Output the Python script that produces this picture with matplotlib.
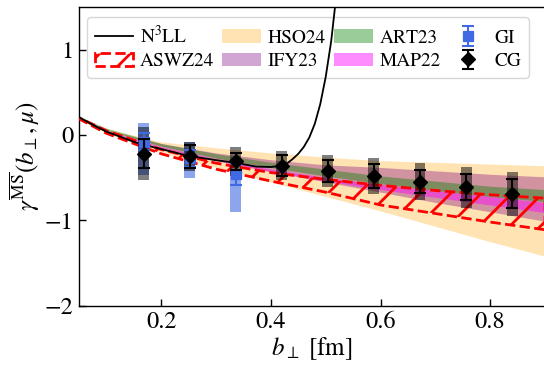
import numpy as np
import matplotlib
matplotlib.use("Agg")
import matplotlib.pyplot as plt
from matplotlib.patches import Patch, Rectangle
from matplotlib.lines import Line2D

DPI = 92
P = 100 / DPI  # scale so that sizes look as at 100 dpi

plt.rcParams['font.family'] = ['STIXGeneral', 'DejaVu Serif']
plt.rcParams['mathtext.fontset'] = 'stix'
plt.rcParams['hatch.linewidth'] = 2.0 * P

# ---- data ----
b_grid = [0.05, 0.1, 0.2, 0.3, 0.4, 0.5, 0.6, 0.7, 0.8, 0.9]
hso_hi = [0.21, 0.07, -0.08, -0.15, -0.21, -0.26, -0.30, -0.32, -0.34, -0.36]
hso_lo = [0.20, 0.02, -0.20, -0.38, -0.55, -0.72, -0.89, -1.07, -1.25, -1.42]
ify_hi = [0.21, 0.06, -0.10, -0.21, -0.29, -0.35, -0.38, -0.42, -0.46, -0.49]
ify_lo = [0.20, 0.04, -0.15, -0.30, -0.43, -0.55, -0.67, -0.79, -0.90, -1.01]
art_hi = [0.22, 0.08, -0.10, -0.22, -0.32, -0.40, -0.48, -0.54, -0.60, -0.64]
art_lo = [0.20, 0.06, -0.13, -0.27, -0.38, -0.48, -0.57, -0.65, -0.72, -0.78]
map_hi = [0.20, 0.05, -0.14, -0.28, -0.40, -0.50, -0.58, -0.65, -0.72, -0.79]
map_lo = [0.19, 0.04, -0.16, -0.30, -0.43, -0.54, -0.64, -0.73, -0.82, -0.91]
aswz_hi = [0.20, 0.05, -0.17, -0.33, -0.44, -0.52, -0.59, -0.65, -0.70, -0.74]
aswz_lo = [0.19, 0.02, -0.22, -0.40, -0.54, -0.67, -0.82, -0.92, -1.02, -1.11]

n3ll_b = [0.05, 0.075, 0.1, 0.125, 0.15, 0.168, 0.2, 0.25, 0.3, 0.336, 0.373,
          0.40, 0.418, 0.43, 0.44, 0.45, 0.46, 0.47, 0.48, 0.49, 0.50,
          0.51, 0.517, 0.525]
n3ll_y = [0.21, 0.12, 0.04, -0.02, -0.08, -0.115, -0.165, -0.245, -0.295,
          -0.325, -0.37, -0.375, -0.36, -0.33, -0.28, -0.22, -0.14, -0.03,
          0.13, 0.36, 0.68, 1.10, 1.50, 2.00]

cg_b = [0.168, 0.252, 0.336, 0.420, 0.504, 0.588, 0.672, 0.756, 0.840]
cg_y = [-0.22, -0.25, -0.31, -0.36, -0.42, -0.48, -0.545, -0.61, -0.69]
cg_err = [0.17, 0.135, 0.10, 0.12, 0.126, 0.136, 0.14, 0.15, 0.17]
cg_sys = [0.31, 0.17, 0.17, 0.17, 0.19, 0.21, 0.22, 0.24, 0.26]

gi_b = [0.168, 0.252, 0.336]
gi_y = [-0.08, -0.27, -0.46]
gi_err = [0.10, 0.10, 0.12]
gi_box_hi = [0.137, -0.078, -0.41]
gi_box_lo = [-0.467, -0.506, -0.90]

xticks = [0.2, 0.4, 0.6, 0.8]
yticks = [-2, -1, 0, 1]

# ---- figure ----
W, H = 544, 367
fig = plt.figure(figsize=(W / DPI, H / DPI), dpi=DPI)
ax = fig.add_axes([79 / W, (H - 305.7) / H, 466 / W, 298.7 / H])

ax.fill_between(b_grid, hso_lo, hso_hi, color='orange', alpha=0.3, lw=0, zorder=1)
ax.fill_between(b_grid, ify_lo, ify_hi, color='purple', alpha=0.35, lw=0, zorder=2)
ax.fill_between(b_grid, art_lo, art_hi, color='green', alpha=0.4, lw=0, zorder=3)
ax.fill_between(b_grid, map_lo, map_hi, color='magenta', alpha=0.45, lw=0, zorder=4)
ax.fill_between(b_grid, aswz_lo, aswz_hi, facecolor='none', edgecolor='red',
                hatch='/', linestyle='--', lw=2 * P, zorder=5)

ax.plot(n3ll_b, n3ll_y, color='black', lw=1.3 * P, zorder=6)

bw = 0.01
for x, lo, hi in zip(gi_b, gi_box_lo, gi_box_hi):
    ax.add_patch(Rectangle((x - bw, lo), 2 * bw, hi - lo, facecolor='royalblue',
                           alpha=0.6, lw=0, zorder=7))
for x, y, s in zip(cg_b, cg_y, cg_sys):
    ax.add_patch(Rectangle((x - bw, y - s), 2 * bw, 2 * s, facecolor='black',
                           alpha=0.5, lw=0, zorder=8))

ax.errorbar(gi_b, gi_y, yerr=gi_err, fmt='s', color='royalblue', ms=7 * P,
            capsize=4 * P, elinewidth=1.5 * P, capthick=1.5 * P, zorder=9, label='GI')
ax.errorbar(cg_b, cg_y, yerr=cg_err, fmt='D', color='black', ms=7 * P,
            capsize=4 * P, elinewidth=1.5 * P, capthick=1.5 * P, zorder=10, label='CG')

ax.set_xlim(0.05, 0.9)
ax.set_ylim(-2, 1.5)
ax.set_xticks(xticks)
ax.set_yticks(yticks)
ax.tick_params(direction='in', labelsize=17.5 * P, length=5 * P, width=1.0 * P,
               pad=4 * P)
for sp in ax.spines.values():
    sp.set_linewidth(1.0 * P)
ax.set_xlabel(r'$b_\perp$ [fm]', fontsize=18 * P, labelpad=2 * P)
ax.set_ylabel(r'$\gamma^{\overline{\rm MS}}(b_\perp, \mu)$', fontsize=18 * P,
              labelpad=2 * P)

h_n3ll = Line2D([], [], color='black', lw=1.3 * P)
h_aswz = Patch(facecolor='none', edgecolor='red', hatch='/', linestyle='--', lw=2 * P)
h_hso = Patch(color='orange', alpha=0.3, lw=0)
h_ify = Patch(color='purple', alpha=0.35, lw=0)
h_art = Patch(color='green', alpha=0.4, lw=0)
h_map = Patch(color='magenta', alpha=0.45, lw=0)
hs, ls = ax.get_legend_handles_labels()
handles = [h_n3ll, h_aswz, h_hso, h_ify, h_art, h_map] + hs
labels = [r'N$^3$LL', 'ASWZ24', 'HSO24', 'IFY23', 'ART23', 'MAP22'] + ls
leg = ax.legend(handles, labels, ncol=4, loc='upper center',
                bbox_to_anchor=(0.491, 0.967), borderaxespad=0, fontsize=14 * P,
                handletextpad=0.35, columnspacing=0.4, labelspacing=0.3)
leg.get_frame().set_linewidth(1.0 * P)

fig.savefig('out.png', dpi=DPI)
